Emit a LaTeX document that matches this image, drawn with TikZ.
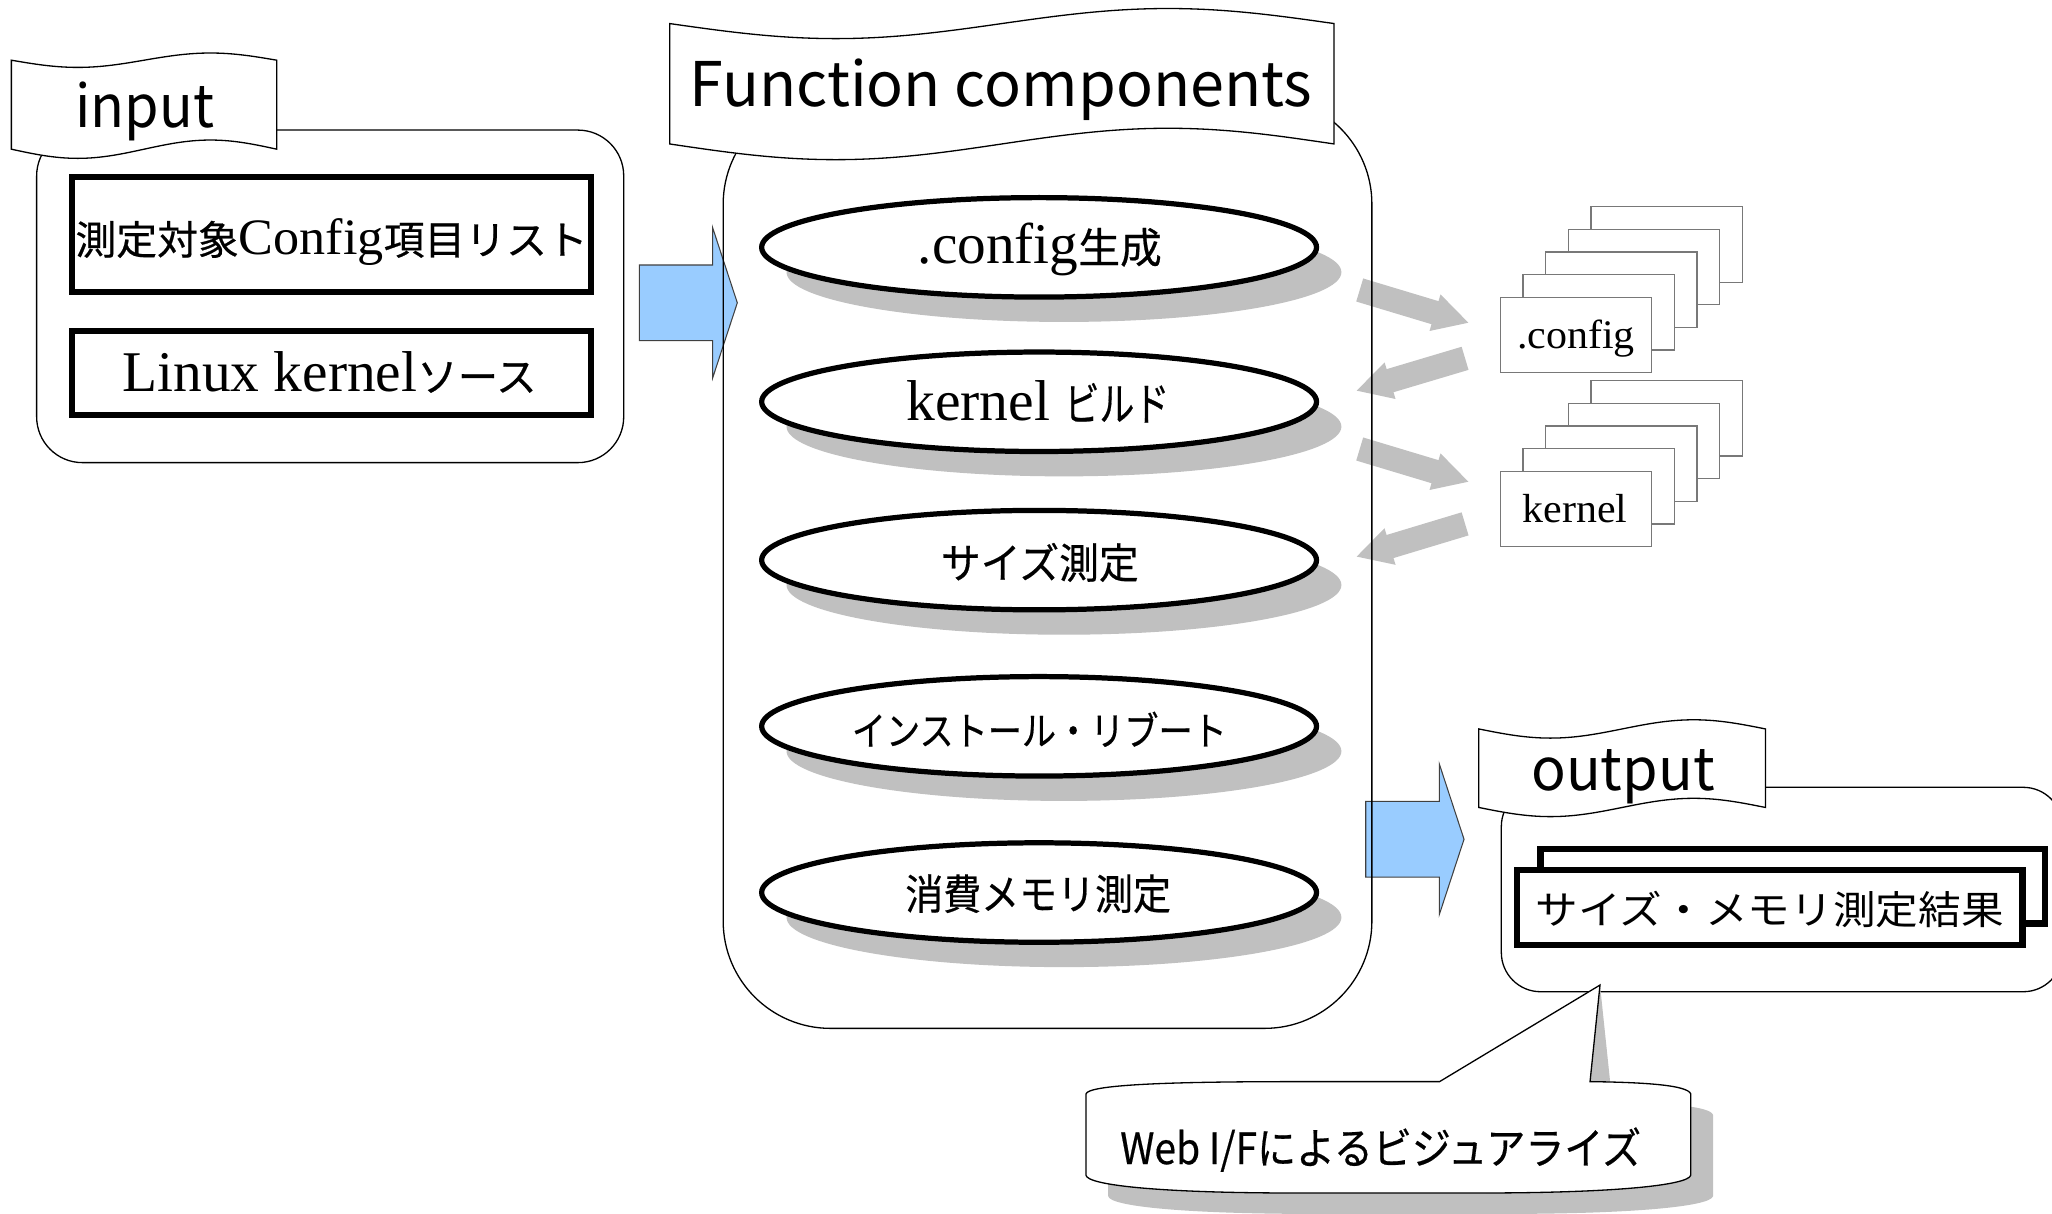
\documentclass[tikz,border=0pt]{standalone}
\usepackage{fontspec}
\usepackage{graphicx}
\setmainfont{Liberation Serif}
\newfontfamily\gothic{Noto Sans CJK JP}
\newfontfamily\gothicmed{Noto Sans CJK JP}[FakeBold=0.5]
\usetikzlibrary{calc,shapes.geometric,shadows}

\definecolor{shadowgray}{RGB}{192,192,192}
\definecolor{arrowblue}{RGB}{153,204,255}
\definecolor{stackgray}{RGB}{120,120,120}

% text helpers: fixed width, natural height
\newcommand\fitw[2]{\resizebox{#1pt}{\height}{#2}}
\newcommand\jp[2]{{\gothic\fontsize{#1}{#1}\selectfont #2}}
\newcommand\jb[2]{{\gothicmed\fontsize{#1}{#1}\selectfont #2}}
\newcommand\lat[2]{{\rmfamily\fontsize{#1}{#1}\selectfont #2}}

% punched-tape banner: x0 x1 topmid topamp botmid botamp
\newcommand\bannershape[6]{%
  \filldraw[banner] ({#1},{#3}) sin ({#1+(#2-#1)/4},{#3+#4}) cos ({(#1+#2)/2},{#3})
    sin ({#1+3*(#2-#1)/4},{#3-#4}) cos ({#2},{#3})
    -- ({#2},{#5}) sin ({#1+3*(#2-#1)/4},{#5-#6}) cos ({(#1+#2)/2},{#5})
    sin ({#1+(#2-#1)/4},{#5+#6}) cos ({#1},{#5}) -- cycle;}

% wide grey arrow from #1 to #2
\newcommand\fatarrow[2]{%
  \coordinate (hb) at ($(#2)!26.6pt!(#1)$);
  \fill[shadowgray] ($(#1)!9.2pt!90:(#2)$) -- ($(hb)!9.2pt!-90:(#1)$)
    -- ($(hb)!14.6pt!-90:(#1)$) -- (#2) -- ($(hb)!14.6pt!90:(#1)$)
    -- ($(hb)!9.2pt!90:(#1)$) -- ($(#1)!9.2pt!-90:(#2)$) -- cycle;}

% blue block arrow pointing right, from tail #1 to tip #2
\newcommand\blockarrow[2]{%
  \filldraw[draw=black!75,line width=0.8pt,fill=arrowblue]
    ($(#1)+(0,-28.9)$) -- ($(#2)+(-18.9,-28.9)$) -- ($(#2)+(-18.9,-57.6)$)
    -- (#2) -- ($(#2)+(-18.9,57.6)$) -- ($(#2)+(-18.9,28.9)$)
    -- ($(#1)+(0,28.9)$) -- cycle;}

% speech balloon outline
\newcommand\balloon[1]{%
  \path[#1] (829.8,836) .. controls (831,829) and (890,826.5) .. (990,826.5)
    -- (1100,826.5) -- (balloontip) -- (1215,826.5)
    .. controls (1255,827) and (1290,829) .. (1292,836) -- (1292,898)
    .. controls (1290,906) and (1230,911.6) .. (1130,911.6) -- (990,911.6)
    .. controls (890,911.6) and (831,906) .. (829.8,898) -- cycle;}

\begin{document}
\begin{tikzpicture}[x=1pt,y=-1pt,
  thinline/.style={draw=black,line width=1pt},
  container/.style={thinline,rectangle,inner sep=0pt},
  banner/.style={thinline,fill=white},
  heavybox/.style={rectangle,draw=black,line width=4.6pt,fill=white,inner sep=0pt},
  proc/.style={ellipse,draw=black,line width=4pt,fill=white,
    minimum width=424pt,minimum height=76pt,inner sep=0pt,
    drop shadow={shadow xshift=19pt,shadow yshift=-19pt,fill=shadowgray,opacity=1}},
  filebox/.style={rectangle,draw=stackgray,line width=1pt,fill=white,
    minimum width=115.6pt,minimum height=57.6pt,inner sep=0pt},
  txt/.style={anchor=base,inner sep=0pt,outer sep=0pt}]

\useasboundingbox (0,0) rectangle (1568,927);
\fill[white] (0,0) rectangle (1568,927);
\clip (0,0) rectangle (1568,927);

% ---- arrows between the groups
\coordinate (g1a) at (1039,221.6);   \coordinate (g1b) at (1122,246.6);
\coordinate (g2a) at (1119.5,273.8); \coordinate (g2b) at (1036.7,298.5);
\coordinate (g3a) at (1039,343.1);   \coordinate (g3b) at (1122,368.1);
\coordinate (g4a) at (1119.5,400.3); \coordinate (g4b) at (1036.7,425.3);
\fatarrow{g1a}{g1b}
\fatarrow{g2a}{g2b}
\fatarrow{g3a}{g3b}
\fatarrow{g4a}{g4b}

\coordinate (b1a) at (488.5,231.4);  \coordinate (b1b) at (563.4,231.4);
\coordinate (b2a) at (1043.6,641.3); \coordinate (b2b) at (1118.7,641.3);
\blockarrow{b1a}{b1b}
\blockarrow{b2a}{b2b}

% ---- group frames
\node[container,rounded corners=35pt,minimum width=448.6pt,minimum height=254.1pt]
  (inputgroup) at (252.3,226.45) {};
\node[container,rounded corners=82pt,minimum width=495.7pt,minimum height=711.8pt]
  (funcgroup) at (800.45,429.9) {};
\node[container,rounded corners=30pt,minimum width=428.8pt,minimum height=156.2pt]
  (outgroup) at (1361.6,679.7) {};

% ---- group titles
\bannershape{8.7}{211.5}{46}{5.5}{114}{7}
\node[txt] (inputtitle) at (110.75,97.3) {\fitw{106}{\jp{45}{input}}};

\bannershape{511.7}{1019.4}{18}{11.5}{110}{12}
\node[txt] (functitle) at (764.85,81.5) {\fitw{475.7}{\jp{47}{Function components}}};

\bannershape{1130}{1349}{557}{7}{617}{7}
\node[txt] (outtitle) at (1240.15,604.2) {\fitw{140.3}{\jp{45}{output}}};

% ---- inputs
\node[heavybox,minimum width=396.2pt,minimum height=87.6pt] (cfglist) at (253.4,179.3) {};
\node[txt] (cfglisttext) at (253.4,194.5)
  {\fitw{391.4}{\jb{30.5}{測定対象}\lat{39}{Config}\jb{30.5}{項目リスト}}};
\node[heavybox,minimum width=396.2pt,minimum height=64.1pt] (ksrc) at (253.4,285.25) {};
\node[txt] (ksrctext) at (251.8,299.3)
  {\fitw{316.4}{\lat{44}{Linux kernel}\jb{31}{ソース}}};

% ---- function components
\node[proc] (genconfig) at (794,189) {};
\node[txt] (genconfigtext) at (794.5,201) {\fitw{186.5}{\lat{44}{.config}\jb{32}{生成}}};
\node[proc] (build) at (794,307) {};
\node[txt] (buildtext) at (793,321.5) {\lat{44}{kernel }\fitw{80}{\jb{35}{ビルド}}};
\node[proc] (sizemeas) at (794,428) {};
\node[txt] (sizemeastext) at (794.6,442) {\fitw{151}{\jb{32}{サイズ測定}}};
\node[proc] (install) at (794,555) {};
\node[txt] (installtext) at (794.2,569.5) {\fitw{286.5}{\jb{30}{インストール・リブート}}};
\node[proc] (memmeas) at (794,682) {};
\node[txt] (memmeastext) at (793.3,695) {\fitw{203}{\jb{32}{消費メモリ測定}}};

% ---- generated files
\foreach \k in {4,3,2,1,0} {
  \node[filebox] (cfgfile\k) at ({1204.3+17.3*\k},{256-17.3*\k}) {};
}
\node[txt] (cfgfiletext) at (1204.2,266.2) {\fitw{90}{\lat{31}{.config}}};
\foreach \k in {4,3,2,1,0} {
  \node[filebox] (kfile\k) at ({1204.3+17.3*\k},{388.85-17.3*\k}) {};
}
\node[txt] (kfiletext) at (1203.5,399.4) {\fitw{80}{\lat{31}{kernel}}};

% ---- outputs
\node[heavybox,line width=5pt,minimum width=385.7pt,minimum height=56.8pt] (resback) at (1369.85,677.1) {};
\node[heavybox,line width=5pt,minimum width=386.6pt,minimum height=57.4pt] (resfront) at (1352.3,693.4) {};
\node[txt] (restext) at (1352.3,706.5) {\fitw{357.5}{\jp{30}{サイズ・メモリ測定結果}}};

% ---- web visualisation note
\coordinate (balloontip) at (1222.6,752.7);
\balloon{fill=shadowgray,shift={(17,16)}}
\balloon{fill=white,draw=black,line width=1pt}
\node[txt] (webif) at (1055,889.5) {\fitw{398}{\jb{33}{Web I/Fによるビジュアライズ}}};

\end{tikzpicture}
\end{document}
